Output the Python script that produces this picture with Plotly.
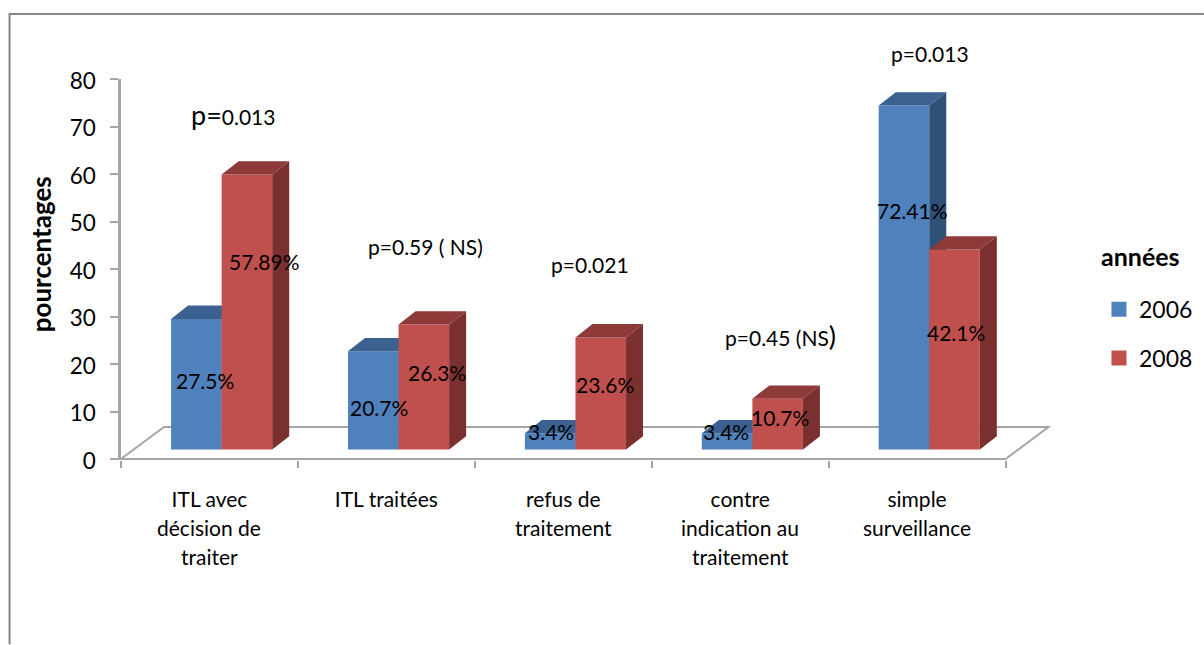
import plotly.graph_objects as go

# ---- data ----
category_lines = [
    ["ITL avec", "décision de", "traiter"],
    ["ITL traitées"],
    ["refus de", "traitement"],
    ["contre", "indication au", "traitement"],
    ["simple", "surveillance"],
]
series_names = ["2006", "2008"]
values_2006 = [27.5, 20.7, 3.4, 3.4, 72.41]
values_2008 = [57.89, 26.3, 23.6, 10.7, 42.1]
labels_2006 = ["27.5%", "20.7%", "3.4%", "3.4%", "72.41%"]
labels_2008 = ["57.89%", "26.3%", "23.6%", "10.7%", "42.1%"]
y_ticks = [0, 10, 20, 30, 40, 50, 60, 70, 80]

# ---- layout (pixels) ----
W, H = 1204, 645
L, R, T, B = 120.5, 1052, 79, 460.5
PX_X = 177.0          # px per category
PX_Y = 4.75           # px per y unit
FONT = "Lato"
TXT = "#000000"
GRID = "#a6a6a6"
BAR_W = 50.6 / PX_X
BAR_SHIFT = 12.2 / PX_X
BASE = 2.0
DX = 17.0 / PX_X
DY = 13.3 / PX_Y
COL = {
    "2006": ("#4F81BD", "#3A6190", "#2F5077"),
    "2008": ("#C0504D", "#8E3A38", "#7A302E"),
}
CAT_SIZE = 21
LABEL_SIZE = 21


def px(x, y):
    return dict(xref="paper", yref="paper", x=(x - L) / (R - L), y=(B - y) / (B - T))


xs = list(range(len(values_2006)))
fig = go.Figure()


def add_series(name, vals, start, xa, ya):
    front, top, side = COL[name]
    fig.add_trace(go.Bar(
        x=xs, y=vals, base=[BASE] * len(vals), width=BAR_W, offset=start, name=name,
        marker=dict(color=front, line=dict(width=0)), showlegend=False,
        xaxis=xa, yaxis=ya, hoverinfo="skip",
    ))
    tx, ty, sx, sy = [], [], [], []
    for x0, v in zip(xs, vals):
        a = x0 + start
        b = a + BAR_W
        h = BASE + v
        tx += [a, a + DX, b + DX, b, a, None]
        ty += [h, h + DY, h + DY, h, h, None]
        sx += [b, b + DX, b + DX, b, b, None]
        sy += [BASE, BASE + DY, h + DY, h, BASE, None]
    for px_x, px_y, c in ((tx, ty, top), (sx, sy, side)):
        fig.add_trace(go.Scatter(
            x=px_x, y=px_y, mode="lines", fill="toself", fillcolor=c,
            line=dict(width=0, color=c), showlegend=False, hoverinfo="skip",
            xaxis=xa, yaxis=ya,
        ))


add_series("2006", values_2006, BAR_SHIFT - BAR_W, "x", "y")
add_series("2008", values_2008, BAR_SHIFT, "x2", "y2")

# legend entries (square swatches)
for name in series_names:
    fig.add_trace(go.Scatter(
        x=[None], y=[None], mode="markers", name=name, legendgroup=name,
        marker=dict(symbol="square", size=15, color=COL[name][0]),
    ))

x_rng = [-0.5, -0.5 + (R - L) / PX_X]
y_rng = [-1.0 / PX_Y, 80]
cat_bounds = [i - 0.5 for i in range(len(xs) + 1)]

# floor of the 3D box
fx0, fx1 = cat_bounds[0], cat_bounds[-1]
dfx = 43.0 / PX_X
dfy = 32.0 / PX_Y
shapes = [
    dict(type="path", xref="x", yref="y", layer="below",
         path=f"M{fx0},0 L{fx0 + dfx},{dfy} L{fx1 + dfx},{dfy} L{fx1},0 Z",
         line=dict(color=GRID, width=2), fillcolor="white"),
    # outer chart frame, cut off by the picture on the right and below
    dict(type="path", xref="paper", yref="paper",
         path=f"M{(9 - L) / (R - L)},{(B - 645) / (B - T)} "
              f"L{(9 - L) / (R - L)},{(B - 14) / (B - T)} "
              f"L{(1204 - L) / (R - L)},{(B - 14) / (B - T)}",
         line=dict(color="#868686", width=2)),
]

ann = []
# extra lines of the category labels
for i, lines in enumerate(category_lines):
    for j, t in enumerate(lines[1:], start=1):
        ann.append(dict(xref="x", x=i, yref="paper", y=(B - (499 + 29 * j)) / (B - T),
                        text=t, showarrow=False, xanchor="center", yanchor="middle",
                        font=dict(family=FONT, size=CAT_SIZE, color=TXT)))

# data labels
label_pos_2006 = [(205, 381), (379, 408), (551, 432), (726, 432), (912, 211)]
label_pos_2008 = [(264, 262), (437, 373), (605, 385), (780, 418), (956, 333)]
for labels, pos in ((labels_2006, label_pos_2006), (labels_2008, label_pos_2008)):
    for t, (x, y) in zip(labels, pos):
        ann.append(dict(**px(x, y), text=t, showarrow=False, xanchor="center", yanchor="middle",
                        font=dict(family=FONT, size=LABEL_SIZE, color=TXT)))

# p values
big = "font-size:27px"
p_values = [
    (233, 115, f"<span style='{big}'>p=</span>0.013"),
    (425, 247, "p=0.59 ( NS)"),
    (590, 265, "p=0.021"),
    (780, 336, f"p=0.45 (NS<span style='{big}'>)</span>"),
    (930, 53, "p=0.013"),
]
for x, y, t in p_values:
    ann.append(dict(**px(x, y), text=t, showarrow=False, xanchor="center", yanchor="middle",
                    font=dict(family=FONT, size=LABEL_SIZE, color=TXT)))

# y axis title
ann.append(dict(**px(40, 255), text="<b>pourcentages</b>", textangle=-90, showarrow=False,
                xanchor="center", yanchor="middle", font=dict(family=FONT, size=26, color=TXT)))
# legend title
ann.append(dict(**px(1141, 256), text="<b>années</b>", showarrow=False,
                xanchor="center", yanchor="middle", font=dict(family=FONT, size=25, color=TXT)))

fig.update_layout(
    width=W, height=H, autosize=False,
    margin=dict(l=L, r=W - R, t=T, b=H - B, pad=0, autoexpand=False),
    paper_bgcolor="white", plot_bgcolor="rgba(0,0,0,0)",
    barmode="overlay", shapes=shapes, annotations=ann,
    font=dict(family=FONT, color=TXT),
    showlegend=True,
    legend=dict(
        x=(1099 - L) / (R - L), xref="paper", xanchor="left",
        y=(B - 288) / (B - T), yanchor="top", bgcolor="rgba(0,0,0,0)",
        font=dict(family=FONT, size=23, color=TXT), tracegroupgap=16,
    ),
    xaxis=dict(
        range=x_rng, showgrid=False, zeroline=False, showline=False,
        tickmode="array", tickvals=xs, ticktext=[c[0] for c in category_lines],
        ticks="", ticklabelstandoff=25, tickangle=0,
        tickfont=dict(family=FONT, size=CAT_SIZE, color=TXT),
        minor=dict(tickmode="array", tickvals=cat_bounds, ticks="outside", ticklen=7,
                   tickcolor=GRID, tickwidth=2, showgrid=False),
    ),
    yaxis=dict(
        range=y_rng, showgrid=False, zeroline=False, showline=True, linecolor=GRID, linewidth=2.5,
        tickmode="array", tickvals=y_ticks, ticks="outside", ticklen=8, tickcolor=GRID, tickwidth=2,
        ticklabelstandoff=10, ticklabelshift=2, tickfont=dict(family=FONT, size=22.5, color=TXT),
    ),
    xaxis2=dict(range=x_rng, overlaying="x", visible=False),
    yaxis2=dict(range=y_rng, overlaying="y", visible=False),
)

fig.write_html("out.html", config={"displayModeBar": False},
               post_script="document.body.style.margin='0';document.body.style.overflow='hidden';")
